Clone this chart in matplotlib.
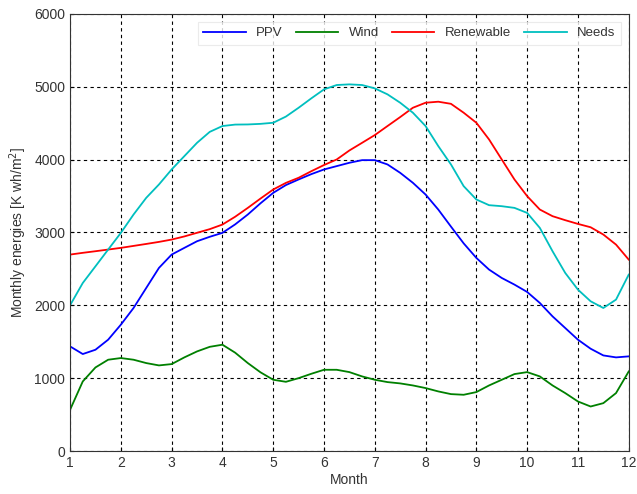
import matplotlib
matplotlib.use("Agg")
import matplotlib.pyplot as plt

plt.rcParams['font.family'] = ['Liberation Sans', 'DejaVu Sans']

# months, read every quarter month off the original curves
months = [1 + 0.25 * i for i in range(45)]

ppv = [1436, 1331, 1390, 1528, 1734, 1963, 2238, 2513, 2696, 2788, 2879, 2940,
       2994, 3110, 3246, 3400, 3543, 3650, 3727, 3800, 3864, 3910, 3956, 3992,
       3992, 3933, 3818, 3681, 3520, 3314, 3080, 2850, 2650, 2490, 2375, 2284,
       2183, 2032, 1848, 1688, 1528, 1404, 1312, 1285, 1299]

wind = [566, 955, 1147, 1253, 1276, 1253, 1207, 1175, 1193, 1285, 1367, 1430,
        1459, 1350, 1207, 1080, 978, 950, 1000, 1060, 1115, 1115, 1083, 1024,
        978, 946, 928, 900, 864, 818, 781, 772, 809, 900, 978, 1056,
        1083, 1024, 900, 795, 680, 611, 657, 795, 1092]

renewable = [2696, 2720, 2742, 2765, 2788, 2815, 2842, 2870, 2902, 2945, 2995, 3045,
             3108, 3215, 3337, 3465, 3589, 3680, 3750, 3840, 3925, 4001, 4125, 4230,
             4336, 4460, 4583, 4711, 4780, 4794, 4765, 4643, 4505, 4276, 4001, 3727,
             3498, 3314, 3223, 3168, 3117, 3071, 2971, 2833, 2627]

needs = [2000, 2306, 2535, 2765, 2994, 3246, 3475, 3658, 3864, 4047, 4230, 4380,
         4460, 4480, 4482, 4490, 4505, 4590, 4711, 4840, 4963, 5023, 5032, 5023,
         4977, 4895, 4780, 4643, 4460, 4185, 3933, 3635, 3452, 3374, 3360, 3337,
         3268, 3062, 2742, 2444, 2215, 2055, 1963, 2078, 2421]

fig = plt.figure(figsize=(6.37, 4.94), dpi=100)
ax = fig.add_axes([0.110, 0.087, 0.877, 0.885])

ax.plot(months, ppv, color=(0, 0, 1), lw=1.3, label='PPV')
ax.plot(months, wind, color=(0, 0.5, 0), lw=1.3, label='Wind')
ax.plot(months, renewable, color=(1, 0, 0), lw=1.3, label='Renewable')
ax.plot(months, needs, color=(0, 0.75, 0.75), lw=1.3, label='Needs')

ax.set_xlim(1, 12)
ax.set_ylim(0, 6000)
ax.set_xticks(range(1, 13))
ax.set_yticks(range(0, 6001, 1000))
ax.grid(True, color='black', linestyle=(0, (3, 3)), linewidth=0.8)
ax.tick_params(direction='in', length=3, labelsize=10, labelcolor='#333333')
for s in ax.spines.values():
    s.set_color('#333333')

ax.set_xlabel('Month', fontsize=10, color='#333333', labelpad=2)
ax.set_ylabel('Monthly energies [K wh/m$^2$]', fontsize=10, color='#333333')

leg = ax.legend(loc='upper right', ncol=4, fontsize=9.5, frameon=True,
                fancybox=False, edgecolor='#e6e6e6', handlelength=3.2,
                columnspacing=1.0, borderaxespad=0.6)
leg.get_frame().set_linewidth(0.8)
for t in leg.get_texts():
    t.set_color('#333333')

fig.savefig('out.png', dpi=100)
